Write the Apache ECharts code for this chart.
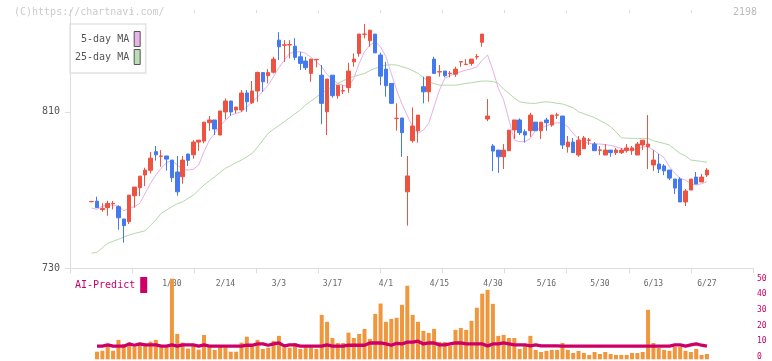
<!DOCTYPE html>
<html>
<head>
<meta charset="utf-8">
<script src="https://cdn.jsdelivr.net/npm/echarts@6/dist/echarts.min.js"></script>
<style>html,body{margin:0;padding:0;background:#fff}#c{width:772px;height:361px}</style>
</head>
<body>
<div id="c"></div>
<script>
const dates = ['1/8','1/9','1/10','1/14','1/15','1/16','1/17','1/20','1/21','1/22','1/23','1/24','1/27','1/28','1/29','1/30','1/31',
'2/3','2/4','2/5','2/6','2/7','2/10','2/12','2/13','2/14','2/17','2/18','2/19','2/20','2/21','2/25','2/26','2/27','2/28',
'3/3','3/4','3/5','3/6','3/7','3/10','3/11','3/12','3/13','3/14','3/17','3/18','3/19','3/21','3/24','3/25','3/26','3/27','3/28','3/31',
'4/1','4/2','4/3','4/4','4/7','4/8','4/9','4/10','4/11','4/14','4/15','4/16','4/17','4/18','4/21','4/22','4/23','4/24','4/25','4/28','4/30',
'5/1','5/2','5/7','5/8','5/9','5/12','5/13','5/14','5/15','5/16','5/19','5/20','5/21','5/22','5/23','5/26','5/27','5/28','5/29','5/30',
'6/2','6/3','6/4','6/5','6/6','6/9','6/10','6/11','6/12','6/13','6/16','6/17','6/18','6/19','6/20','6/23','6/24','6/25','6/26','6/27'];

const openP = [764.0,764.3,760.0,761.0,763.0,761.5,755.2,753.8,767.1,771.2,777.7,780.1,789.6,787.2,787.4,785.3,779.2,776.8,788.4,788.0,
794.5,795.0,804.4,805.8,798.1,809.9,815.5,810.9,810.9,819.6,814.6,820.6,830.0,828.4,830.2,846.6,844.0,844.1,843.5,838.1,
835.9,829.6,836.6,828.7,810.0,828.7,818.2,820.6,822.3,835.5,839.8,849.6,846.3,849.7,839.0,831.8,824.5,806.5,806.8,769.1,
795.2,800.3,822.8,820.2,836.9,830.3,830.8,829.5,829.2,835.4,834.1,834.7,838.0,845.5,806.3,792.5,790.4,787.0,790.1,800.7,
805.8,799.8,800.3,804.7,800.3,805.8,803.2,808.2,807.8,792.1,794.5,787.9,791.1,795.4,793.5,790.3,787.9,790.4,789.1,789.1,
790.1,790.1,787.9,793.0,792.1,782.8,783.3,782.3,780.2,775.6,775.6,763.9,770.0,776.6,774.1,777.7];
const closeP = [764.2,761.0,760.6,763.2,763.2,755.8,751.8,767.4,771.5,777.1,780.2,786.3,788.0,787.4,785.8,776.3,769.1,785.3,785.2,794.5,
795.5,804.7,805.8,801.2,810.4,815.5,809.9,812.4,819.6,815.1,820.6,830.1,825.3,830.0,836.9,843.2,844.2,844.3,837.8,834.7,
832.5,836.9,836.8,814.3,826.7,818.2,823.6,820.8,830.8,836.9,849.7,849.7,851.7,840.1,828.2,823.3,814.3,806.7,799.3,777.2,
802.7,808.3,820.2,827.9,829.6,830.5,828.4,829.7,831.8,835.6,834.3,836.9,838.2,849.7,807.8,789.9,787.0,790.4,800.6,805.8,
799.3,798.1,808.3,800.3,804.7,804.4,808.3,808.4,793.0,794.5,789.1,795.5,796.6,795.6,790.1,790.5,790.4,789.1,790.4,790.4,
791.5,791.5,793.5,795.5,793.5,785.3,780.7,779.8,776.1,771.0,763.9,769.5,775.6,773.1,776.6,780.2];
const lowP = [763.8,761.0,758.9,756.9,760.1,749.7,743.1,752.6,761.0,766.9,772.0,778.5,785.0,781.9,779.9,774.2,767.1,773.2,782.3,786.0,
790.0,793.9,800.3,798.1,798.1,806.1,808.0,809.2,809.9,810.0,813.9,815.1,820.2,824.5,829.6,836.4,835.5,837.3,836.4,831.3,
831.3,825.3,832.7,803.6,798.1,817.2,816.7,819.0,819.7,833.0,838.1,847.5,843.2,840.1,823.6,817.7,814.3,800.3,787.0,751.8,
794.2,794.2,814.3,815.1,829.6,827.9,827.6,827.6,827.9,833.0,834.1,833.5,836.7,843.2,805.2,779.7,778.8,780.7,790.1,796.1,
798.1,794.2,797.2,800.3,796.1,800.3,802.3,806.3,791.0,789.1,789.1,787.0,791.1,793.0,790.1,787.9,787.9,787.0,787.9,788.4,
789.1,787.9,787.9,790.4,780.7,779.8,778.7,777.6,775.1,768.0,763.9,761.8,770.0,773.1,774.1,776.6];
const highP = [764.4,766.6,763.2,764.5,764.4,762.2,755.2,767.4,771.5,777.1,781.4,789.4,792.5,790.4,787.4,785.3,787.4,787.4,788.4,795.5,
795.5,804.7,807.8,805.8,810.4,816.8,815.5,812.4,821.1,821.1,825.7,830.5,830.0,831.8,838.1,850.7,846.6,846.6,847.6,840.5,
838.1,836.9,836.8,833.9,826.7,828.7,823.6,823.6,835.0,839.8,849.7,854.8,851.7,849.7,840.2,835.5,824.5,814.3,806.8,787.4,
812.2,808.3,827.9,827.9,838.1,833.9,830.8,830.8,833.0,835.6,836.9,836.9,839.5,849.7,816.5,793.5,790.4,793.5,800.6,805.8,
806.6,801.0,809.5,804.7,804.7,806.9,808.3,809.5,807.8,797.6,796.6,797.6,797.6,796.6,794.5,792.5,793.5,790.4,791.5,791.5,
793.5,792.5,794.5,795.5,808.3,790.4,788.4,783.3,780.2,775.6,776.6,770.5,775.6,779.2,778.2,781.2];

const ma5 = [760.8,760.1,761.8,762.3,762.3,761.8,759.4,760.6,761.5,763.2,768.3,773.4,777.7,781.1,784.0,785.0,782.8,780.6,780.2,780.6,
782.8,789.6,795.5,799.0,803.0,805.5,808.3,809.2,810.0,812.5,815.1,817.5,820.5,823.6,828.0,832.5,836.4,839.8,840.5,840.7,
839.8,837.8,835.5,833.0,829.0,826.5,824.5,823.5,822.8,827.1,834.7,840.7,844.0,845.8,843.2,838.1,829.6,821.1,814.0,808.0,
802.3,799.0,800.6,804.1,812.6,821.1,827.1,828.5,829.6,830.5,831.3,832.0,833.0,836.4,839.0,831.3,822.0,816.0,805.8,795.5,
794.7,794.7,796.4,800.6,801.8,802.7,804.1,804.3,804.4,802.3,799.0,796.0,794.5,793.8,793.6,793.5,793.2,792.8,792.1,791.3,
790.4,790.6,790.8,792.1,792.1,790.4,788.5,786.5,781.9,778.5,776.0,775.1,773.1,772.6,773.2,774.2];
const ma25 = [737.8,738.2,740.5,742.8,743.8,744.8,746.0,747.0,747.8,748.5,749.2,752.0,754.7,758.1,759.8,761.5,763.0,764.0,765.7,767.4,
770.0,772.6,774.7,776.8,779.0,781.1,782.5,784.0,785.3,787.0,788.7,792.0,795.5,799.0,801.0,803.0,804.9,807.0,809.0,810.9,
813.5,815.5,817.5,819.5,821.1,823.0,824.5,825.8,827.1,828.0,828.8,829.6,831.0,832.2,833.0,833.9,834.0,833.9,833.0,832.2,
831.0,829.6,827.5,825.3,824.4,823.6,823.6,823.6,823.6,824.0,824.5,824.8,825.3,825.7,825.7,825.5,824.5,821.5,819.4,817.0,
815.1,814.6,814.3,814.3,814.8,815.1,814.8,814.3,814.0,813.0,812.0,810.0,809.0,808.0,807.0,805.5,804.1,802.3,799.8,796.7,
796.5,796.4,796.4,796.4,796.4,795.2,794.4,793.8,793.0,790.8,788.7,787.4,785.3,785.0,784.6,784.2];

const volume = [null,4.7,5.3,8.3,5.3,12.0,9.5,10.3,7.8,9.9,8.3,10.9,12.0,7.4,7.4,49.9,15.7,10.3,6.6,8.3,
6.0,15.1,7.4,5.8,8.3,7.4,4.7,4.7,10.3,14.0,8.3,12.0,6.4,7.2,11.4,14.5,7.4,7.2,10.1,6.4,
7.4,7.4,6.4,27.5,23.2,13.2,10.1,10.1,16.5,13.2,15.7,18.8,12.6,28.1,34.5,23.2,25.0,25.7,33.7,45.5,
27.5,23.2,17.6,16.3,18.8,10.7,10.7,8.3,18.2,19.4,18.2,23.8,31.9,40.6,43.0,34.3,14.5,15.1,13.2,13.2,
6.4,8.3,14.5,5.8,4.5,5.2,5.8,5.8,10.1,5.8,3.9,5.2,3.9,2.7,4.5,3.3,4.5,3.3,2.7,2.7,
2.7,3.9,3.9,4.5,30.6,10.1,7.0,5.8,5.2,7.6,7.6,5.2,4.5,6.4,2.7,3.3];
const aiPredict = [null,8.1,8.1,8.9,8.1,8.1,8.1,9.5,8.7,9.5,8.9,8.9,8.9,8.1,8.1,8.9,8.1,8.9,8.9,8.9,
8.1,8.9,8.1,8.1,8.1,8.1,8.1,8.1,8.1,8.7,8.7,9.5,9.5,8.7,9.5,10.1,8.3,8.9,8.9,8.1,
8.1,8.1,8.1,8.1,8.9,8.1,8.1,8.1,8.7,8.7,8.7,8.7,10.1,10.1,10.1,9.5,8.7,9.9,9.5,10.6,
10.6,11.2,9.5,10.1,10.1,8.9,8.9,9.5,10.1,10.1,9.5,9.5,9.5,9.5,8.3,9.5,9.5,10.1,9.5,8.9,
8.9,8.9,8.3,8.9,8.3,8.3,8.3,8.3,8.1,8.1,8.1,8.1,8.1,8.1,8.1,8.1,8.1,8.1,8.1,8.1,
8.1,8.1,8.1,8.1,8.1,8.1,8.1,8.1,8.1,8.9,8.9,8.1,8.9,9.5,8.7,8.1];

const priceTicks = [730, 810];
const volTicks = [0, 10, 20, 30, 40, 50];

const FONT = '"DejaVu Sans Mono", "Liberation Mono", monospace';
const ohlc = dates.map((d, i) => [openP[i], closeP[i], lowP[i], highP[i]]);

const chart = echarts.init(document.getElementById('c'), null, {renderer: 'canvas'});
const mainTop = 10, mainH = 258.3, volTop = 278.5, volH = 80.8;
const option = {
  animation: false,
  backgroundColor: '#fff',
  title: [
    {text: '(C)https://chartnavi.com/', left: 14, top: 7, padding: 0,
     textStyle: {fontFamily: FONT, fontSize: 10, fontWeight: 'normal', color: '#cccccc'}},
    {text: '2198', right: 15, top: 7, padding: 0,
     textStyle: {fontFamily: FONT, fontSize: 10, fontWeight: 'normal', color: '#bbbbbb'}}
  ],
  legend: [
    {
      data: [
        {name: '5-day MA', itemStyle: {color: '#e8b4e8', borderColor: '#555', borderWidth: 1}},
        {name: '25-day MA', itemStyle: {color: '#bcdcb4', borderColor: '#555', borderWidth: 1}}
      ],
      orient: 'vertical', left: 70, top: 24, align: 'right', icon: 'rect',
      itemWidth: 6, itemHeight: 15, itemGap: 2, padding: [7, 5, 8, 5],
      borderColor: '#e2e2e2', borderWidth: 1.5, selectedMode: false,
      formatter: n => n.padStart(9, ' '),
      textStyle: {fontFamily: FONT, fontSize: 10, color: '#555'}
    },
    {
      data: [{name: 'AI-Predict', itemStyle: {color: '#cc0066', borderWidth: 0}}],
      left: 75, top: 277, align: 'right', icon: 'rect', padding: 0,
      itemWidth: 7, itemHeight: 16, selectedMode: false,
      textStyle: {fontFamily: FONT, fontSize: 10, color: '#cc0066'}
    }
  ],
  grid: [
    {left: 89, right: 62.4, top: mainTop, height: mainH},
    {left: 89, right: 62.4, top: volTop, height: volH},
    {left: 70, right: 19, top: mainTop, height: mainH},
    {left: 70, right: 19, top: volTop, height: volH}
  ],
  xAxis: [
    {gridIndex: 0, type: 'category', data: dates, boundaryGap: true,
     axisLine: {show: false}, axisTick: {show: false}, splitLine: {show: false},
     axisLabel: {interval: (i) => i >= 15 && (i - 15) % 10 === 0, margin: 12, fontSize: 8,
                 fontFamily: FONT, color: '#666'}},
    {gridIndex: 1, type: 'category', data: dates, boundaryGap: true, show: false},
    {gridIndex: 2, type: 'value', min: 0, max: 682, interval: 62,
     axisLine: {show: true, lineStyle: {color: '#dddddd', width: 1}},
     axisTick: {show: true, length: 5, lineStyle: {color: '#dddddd'}},
     axisLabel: {show: false}, splitLine: {show: false}},
    {gridIndex: 2, type: 'value', min: 0, max: 682, interval: 62,
     axisLine: {show: false},
     axisTick: {show: true, inside: true, length: 3, lineStyle: {color: '#dddddd'}},
     axisLabel: {show: false}, splitLine: {show: false}},
    {gridIndex: 3, type: 'value', min: 0, max: 682, show: false}
  ],
  yAxis: [
    {gridIndex: 0, type: 'value', min: 730, max: 862, show: false},
    {gridIndex: 1, type: 'value', min: 0, max: 50, show: false},
    {gridIndex: 2, type: 'value', min: 730, max: 862,
     axisLine: {show: true, lineStyle: {color: '#dddddd'}},
     axisTick: {show: true, length: 5, customValues: priceTicks, lineStyle: {color: '#dddddd'}},
     axisLabel: {customValues: priceTicks, margin: 10, fontSize: 10, fontFamily: FONT, color: '#555'},
     splitLine: {show: false}},
    {gridIndex: 2, type: 'value', min: 730, max: 862,
     axisLine: {show: false},
     axisTick: {show: true, inside: true, length: 4, customValues: priceTicks, lineStyle: {color: '#dddddd'}},
     axisLabel: {show: false}, splitLine: {show: false}},
    {gridIndex: 3, type: 'value', min: 0, max: 50, position: 'right',
     axisLine: {show: false}, axisTick: {show: false}, splitLine: {show: false},
     axisLabel: {customValues: volTicks, margin: 4, fontSize: 8, fontFamily: FONT, color: '#cc0066'}}
  ],
  series: [
    {type: 'candlestick', name: 'price', xAxisIndex: 0, yAxisIndex: 0, data: ohlc, barWidth: 4, z: 5,
     itemStyle: {color: '#ee5240', color0: '#447aee', borderColor: '#ee5240', borderColor0: '#447aee', borderWidth: 1}},
    {type: 'line', name: '5-day MA', xAxisIndex: 0, yAxisIndex: 0, data: ma5, symbol: 'none', z: 3,
     lineStyle: {color: '#e6b0e6', width: 1}, itemStyle: {color: '#e8b4e8'}},
    {type: 'line', name: '25-day MA', xAxisIndex: 0, yAxisIndex: 0, data: ma25, symbol: 'none', z: 3,
     lineStyle: {color: '#b4d8ac', width: 1}, itemStyle: {color: '#bcdcb4'}},
    {type: 'bar', name: 'Volume', xAxisIndex: 1, yAxisIndex: 1, data: volume, barWidth: 4,
     itemStyle: {color: '#f0963c'}},
    {type: 'line', name: 'AI-Predict', xAxisIndex: 1, yAxisIndex: 1, data: aiPredict, symbol: 'none', z: 4,
     lineStyle: {color: '#cc0066', width: 3.3}, itemStyle: {color: '#cc0066'}}
  ]
};
chart.setOption(option);
</script>
</body>
</html>
